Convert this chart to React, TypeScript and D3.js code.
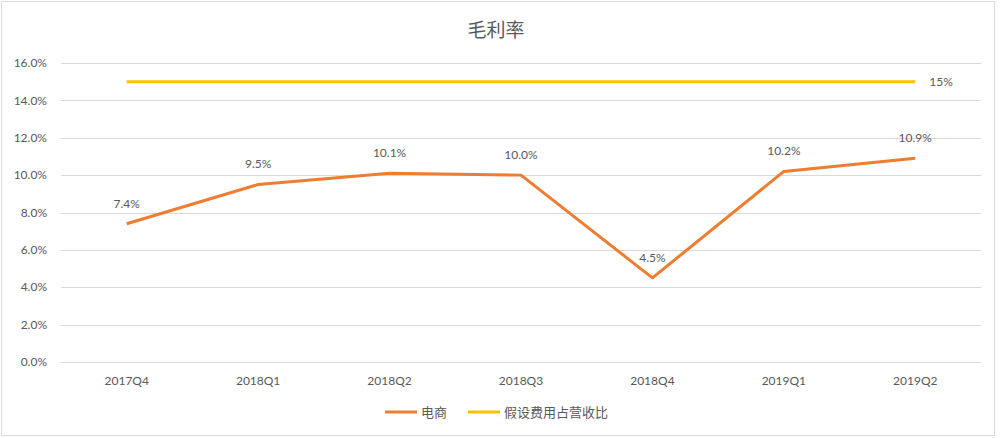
import { useRef, useEffect } from "react";
import * as d3 from "d3";

const categories = ["2017Q4", "2018Q1", "2018Q2", "2018Q3", "2018Q4", "2019Q1", "2019Q2"];
const ecommerce = [7.4, 9.5, 10.1, 10.0, 4.5, 10.2, 10.9];
const expenseRatio = [15, 15, 15, 15, 15, 15, 15];
const yTicks = [0, 2, 4, 6, 8, 10, 12, 14, 16];
const seriesNames = ["电商", "假设费用占营收比"];

const W = 1000;
const H = 438;
const FONT = "Lato, 'Noto Sans CJK SC', sans-serif";
const TEXT = "#595959";

const App = () => {
  const svgRef = useRef<SVGSVGElement | null>(null);

  useEffect(() => {
    if (!svgRef.current) return;
    const svg = d3.select(svgRef.current);
    svg.selectAll("*").remove();

    const margin = { top: 63, right: 19, bottom: 76, left: 61 };
    const innerWidth = W - margin.left - margin.right;
    const innerHeight = H - margin.top - margin.bottom;

    svg.append("rect").attr("width", W).attr("height", H).attr("fill", "#fff");
    svg
      .append("rect")
      .attr("x", 1.5)
      .attr("y", 1.5)
      .attr("width", 993)
      .attr("height", 434)
      .attr("fill", "none")
      .attr("stroke", "#d9d9d9");

    // title
    svg
      .append("text")
      .attr("x", 496)
      .attr("y", 37)
      .attr("text-anchor", "middle")
      .attr("font-family", FONT)
      .attr("font-size", 19)
      .attr("fill", TEXT)
      .text("毛利率");

    const xScale = d3.scaleBand().domain(categories).range([0, innerWidth]);
    const yScale = d3.scaleLinear().domain([0, 16]).range([innerHeight, 0]);
    const cx = (c: string) => xScale(c)! + xScale.bandwidth() / 2;

    const g = svg
      .append("g")
      .attr("transform", `translate(${margin.left},${margin.top})`);

    // gridlines
    g.append("g")
      .selectAll("line")
      .data(yTicks)
      .enter()
      .append("line")
      .attr("x1", 0)
      .attr("x2", innerWidth)
      .attr("y1", (d) => Math.round(yScale(d)) + 0.5)
      .attr("y2", (d) => Math.round(yScale(d)) + 0.5)
      .attr("stroke", "#d9d9d9");

    // y labels
    g.append("g")
      .selectAll("text")
      .data(yTicks)
      .enter()
      .append("text")
      .attr("x", -14)
      .attr("y", (d) => yScale(d))
      .attr("dy", "0.35em")
      .attr("text-anchor", "end")
      .attr("font-family", FONT)
      .attr("font-size", 12)
      .attr("fill", TEXT)
      .text((d) => d.toFixed(1) + "%");

    // x labels
    g.append("g")
      .selectAll("text")
      .data(categories)
      .enter()
      .append("text")
      .attr("x", (d) => cx(d))
      .attr("y", innerHeight + 23)
      .attr("text-anchor", "middle")
      .attr("font-family", FONT)
      .attr("font-size", 12)
      .attr("fill", TEXT)
      .text((d) => d);

    const line = d3
      .line<number>()
      .x((_, i) => cx(categories[i]))
      .y((d) => yScale(d));

    g.append("path")
      .datum(expenseRatio)
      .attr("d", line)
      .attr("fill", "none")
      .attr("stroke", "#FFC000")
      .attr("stroke-width", 3);

    g.append("path")
      .datum(ecommerce)
      .attr("d", line)
      .attr("fill", "none")
      .attr("stroke", "#ED7D31")
      .attr("stroke-width", 3)
      .attr("stroke-linejoin", "round");

    // data labels
    g.append("g")
      .selectAll("text")
      .data(ecommerce)
      .enter()
      .append("text")
      .attr("x", (_, i) => cx(categories[i]))
      .attr("y", (d) => yScale(d) - 16)
      .attr("text-anchor", "middle")
      .attr("font-family", FONT)
      .attr("font-size", 12)
      .attr("fill", TEXT)
      .text((d) => d.toFixed(1) + "%");

    const last = expenseRatio.length - 1;
    g.append("text")
      .attr("x", cx(categories[last]) + 14)
      .attr("y", yScale(expenseRatio[last]))
      .attr("dy", "0.35em")
      .attr("font-family", FONT)
      .attr("font-size", 12)
      .attr("fill", TEXT)
      .text(expenseRatio[last] + "%");

    // legend
    const legend = svg.append("g").attr("transform", "translate(385,412)");
    const colors = ["#ED7D31", "#FFC000"];
    const offsets = [0, 83];
    seriesNames.forEach((name, i) => {
      const lg = legend.append("g").attr("transform", `translate(${offsets[i]},0)`);
      lg.append("line")
        .attr("x1", 0)
        .attr("x2", 32)
        .attr("y1", 0)
        .attr("y2", 0)
        .attr("stroke", colors[i])
        .attr("stroke-width", 3);
      lg.append("text")
        .attr("x", 36)
        .attr("y", 0)
        .attr("dy", "0.35em")
        .attr("font-family", FONT)
        .attr("font-size", 13)
        .attr("fill", TEXT)
        .text(name);
    });
  }, []);

  return (
    <div style={{ position: "absolute", left: 0, top: 0 }}>
      <svg ref={svgRef} width={W} height={H} style={{ display: "block" }}></svg>
    </div>
  );
};

export default App;
